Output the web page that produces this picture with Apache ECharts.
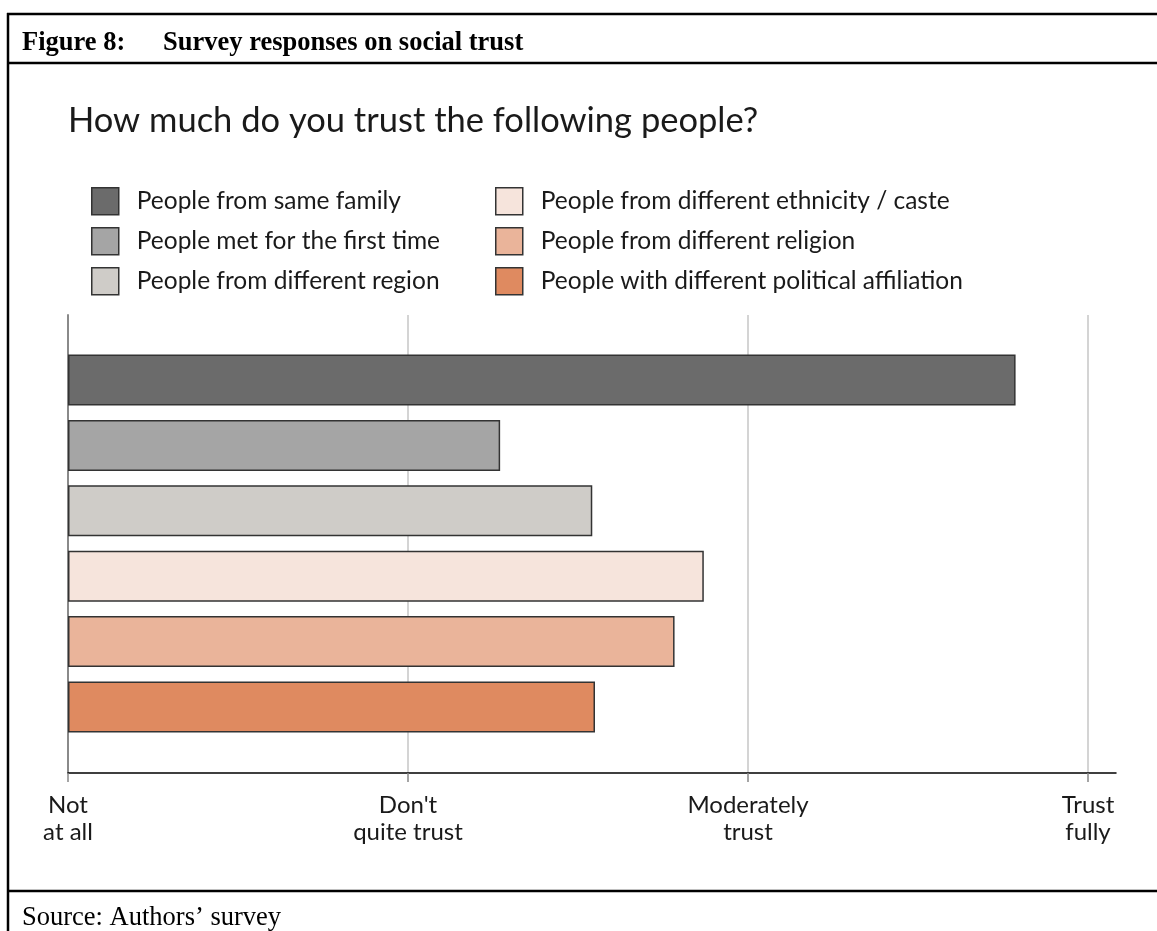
<!DOCTYPE html>
<html>
<head>
<meta charset="utf-8">
<script src="https://cdn.jsdelivr.net/npm/echarts@6/dist/echarts.min.js"></script>
<style>
html,body{margin:0;padding:0;background:#fff;}
#chart{width:1157px;height:931px;}
</style>
</head>
<body>
<div id="chart"></div>
<script>
// ---- data ----
const categories = [
  'People from same family',
  'People met for the first time',
  'People from different region',
  'People from different ethnicity / caste',
  'People from different religion',
  'People with different political affiliation'
];
const trustValues = [2.787, 1.271, 1.542, 1.870, 1.784, 1.550];
const tickValues = [0, 1, 2, 3];
const tickLabels = ['Not\nat all', "Don't\nquite trust", 'Moderately\ntrust', 'Trust\nfully'];
const barColors = ['#6b6b6b', '#a5a5a5', '#cfccc8', '#f6e4dc', '#eab49a', '#df8a60'];

const sansFont = 'Lato, "Open Sans", sans-serif';
const serifFont = '"Liberation Serif", "DejaVu Serif", serif';

const chart = echarts.init(document.getElementById('chart'), null, {renderer: 'canvas'});

const series = categories.map((name, i) => ({
  name: name,
  type: 'bar',
  xAxisIndex: 0,
  yAxisIndex: 0,
  barWidth: 51,
  barGap: '-100%',
  data: categories.map((c, j) => (j === i ? trustValues[i] : '-')),
  itemStyle: { color: barColors[i], borderColor: '#333', borderWidth: 1.5 },
  emphasis: { disabled: true },
  silent: true
}));

// an empty helper series to host the axes grid
series.push({
  type: 'line', xAxisIndex: 1, yAxisIndex: 1, data: [], silent: true
});

const legendBase = {
  orient: 'vertical',
  itemWidth: 27,
  itemHeight: 27,
  itemGap: 11.5,
  icon: 'rect',
  padding: 0,
  selectedMode: false,
  textStyle: { fontFamily: sansFont, fontSize: 24.5, lineHeight: 27, color: '#1a1a1a', padding: [0, 0, 0, 13] },
  itemStyle: { borderColor: '#333', borderWidth: 1.5 }
};

const headStyle = { fontFamily: serifFont, fontWeight: 'bold', fontSize: 26.5, color: '#000' };

const option = {
  animation: false,
  backgroundColor: '#fff',
  title: [
    { text: 'Figure 8:', left: 22, top: 30, padding: 0, textStyle: headStyle },
    { text: 'Survey responses on social trust', left: 163, top: 30, padding: 0, textStyle: headStyle },
    { text: 'How much do you trust the following people?', left: 68, top: 103, padding: 0, textStyle: { fontFamily: sansFont, fontWeight: 'normal', fontSize: 34.5, color: '#1a1a1a' } },
    { text: 'Source: Authors\u2019 survey', left: 22, top: 905, padding: 0, textStyle: { fontFamily: serifFont, fontWeight: 'normal', fontSize: 26.5, color: '#000' } }
  ],
  legend: [
    Object.assign({}, legendBase, { left: 91, top: 187, data: categories.slice(0, 3) }),
    Object.assign({}, legendBase, { left: 495, top: 187, data: categories.slice(3, 6) })
  ],
  grid: [
    { left: 68, width: 1020, top: 347.3, height: 392.4, containLabel: false },
    { left: 68, width: 1048, top: 315, height: 458, containLabel: false }
  ],
  xAxis: [
    { gridIndex: 0, type: 'value', min: 0, max: 3, interval: 1, show: false },
    {
      gridIndex: 1, type: 'value', min: 0, max: 3 * 1048 / 1020, interval: 1,
      axisLine: { show: true, lineStyle: { color: '#000', width: 1.5 } },
      axisTick: { show: true, length: 9, lineStyle: { color: '#888', width: 1.5 }, customValues: tickValues },
      axisLabel: {
        customValues: tickValues,
        margin: 19,
        fontFamily: sansFont, fontSize: 24, lineHeight: 27, color: '#1a1a1a',
        formatter: v => { const k = tickValues.indexOf(Math.round(v)); return k >= 0 ? tickLabels[k] : ''; }
      },
      splitLine: { show: true, lineStyle: { color: '#c6c6c6', width: 1.5 } }
    }
  ],
  yAxis: [
    { gridIndex: 0, type: 'category', data: categories, inverse: true, show: false },
    {
      gridIndex: 1, type: 'value', min: 0, max: 1,
      axisLine: { show: true, lineStyle: { color: '#8a8a8a', width: 2 } },
      axisTick: { show: false }, axisLabel: { show: false }, splitLine: { show: false }
    }
  ],
  series: series,
  graphic: [
    { type: 'line', shape: { x1: 7, y1: 14, x2: 1157, y2: 14 }, style: { stroke: '#000', lineWidth: 2.5 }, silent: true },
    { type: 'line', shape: { x1: 7, y1: 63, x2: 1157, y2: 63 }, style: { stroke: '#000', lineWidth: 2.5 }, silent: true },
    { type: 'line', shape: { x1: 7, y1: 891, x2: 1157, y2: 891 }, style: { stroke: '#000', lineWidth: 2.5 }, silent: true },
    { type: 'line', shape: { x1: 8, y1: 13, x2: 8, y2: 931 }, style: { stroke: '#000', lineWidth: 2.5 }, silent: true }
  ]
};

chart.setOption(option);
</script>
</body>
</html>
